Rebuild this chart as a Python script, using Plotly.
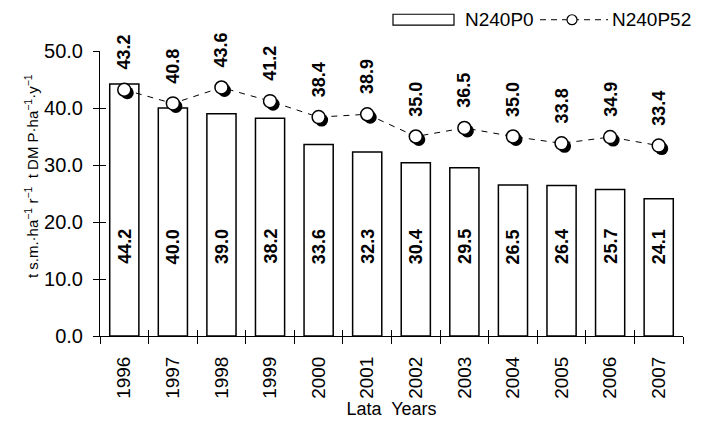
import plotly.graph_objects as go

years = ["1996", "1997", "1998", "1999", "2000", "2001", "2002", "2003", "2004", "2005", "2006", "2007"]
bar_vals = [44.2, 40.0, 39.0, 38.2, 33.6, 32.3, 30.4, 29.5, 26.5, 26.4, 25.7, 24.1]
line_vals = [43.2, 40.8, 43.6, 41.2, 38.4, 38.9, 35.0, 36.5, 35.0, 33.8, 34.9, 33.4]
y_ticks = [0, 10, 20, 30, 40, 50]
y_tick_text = ["0.0", "10.0", "20.0", "30.0", "40.0", "50.0"]

FONT = "Liberation Sans, Arial, sans-serif"
W, H = 701, 423
L, R, T, B = 100, 18, 51, 85
pw = W - L - R
ph = H - T - B
ncat = len(years)
sx = 3.0 / (pw / ncat)   # shadow offset in category units
sy = 3.0 * 50 / ph       # shadow offset in value units

fig = go.Figure()
fig.add_trace(go.Bar(
    x=years, y=bar_vals, width=0.6,
    marker=dict(color="white", line=dict(color="black", width=1.5)),
    showlegend=False, xaxis="x", yaxis="y"))
# shadow discs
fig.add_trace(go.Scatter(
    x=years, y=line_vals, mode="markers",
    marker=dict(size=13, color="black", line=dict(width=0)),
    showlegend=False, xaxis="x2", yaxis="y2", cliponaxis=False))
fig.add_trace(go.Scatter(
    x=years, y=line_vals, mode="lines+markers",
    line=dict(color="black", width=1, dash="6px,6px"),
    marker=dict(size=13, color="white", line=dict(color="black", width=1.5)),
    showlegend=False, xaxis="x3", yaxis="y3", cliponaxis=False))

ann = []
for i, v in enumerate(bar_vals):
    ann.append(dict(x=i, y=0, xref="x", yref="y", text="<b>%.1f</b>" % v,
                    textangle=-90, showarrow=False, xanchor="center", yanchor="bottom",
                    yshift=70, font=dict(family=FONT, size=18, color="black")))
for i, v in enumerate(line_vals):
    ann.append(dict(x=i, y=v, xref="x", yref="y", text="<b>%.1f</b>" % v,
                    textangle=-90, showarrow=False, xanchor="center", yanchor="bottom",
                    yshift=18, font=dict(family=FONT, size=18, color="black")))

# y-axis title
ann.append(dict(xref="paper", yref="paper", x=-69 / pw, y=(H - B - 177) / ph,
                text="t s.m.·ha<sup>−1</sup> r<sup>−1</sup>  t DM P·ha<sup>−1</sup>·y<sup>−1</sup>",
                textangle=-90, showarrow=False, xanchor="center", yanchor="middle",
                font=dict(family=FONT, size=15, color="black")))

shapes = [
    dict(type="rect", xref="paper", yref="paper", x0=(393 - L) / pw, x1=(454 - L) / pw,
         y0=(H - B - 25) / ph, y1=(H - B - 14) / ph, line=dict(color="black", width=1.2), fillcolor="white"),
    dict(type="line", xref="paper", yref="paper", x0=(540 - L) / pw, x1=(608 - L) / pw,
         y0=(H - B - 19.5) / ph, y1=(H - B - 19.5) / ph, line=dict(color="black", width=1, dash="6px,5px")),
    dict(type="circle", xref="paper", yref="paper", x0=(567 - L) / pw, x1=(577 - L) / pw,
         y0=(H - B - 24.5) / ph, y1=(H - B - 14.5) / ph, line=dict(color="black", width=1.2), fillcolor="white"),
]
ann.append(dict(xref="paper", yref="paper", x=(463 - L) / pw, y=(H - B - 19.5) / ph, text="N240P0",
                showarrow=False, xanchor="left", yanchor="middle", font=dict(family=FONT, size=19, color="black")))
ann.append(dict(xref="paper", yref="paper", x=(610 - L) / pw, y=(H - B - 19.5) / ph, text="N240P52",
                showarrow=False, xanchor="left", yanchor="middle", font=dict(family=FONT, size=19, color="black")))

fig.update_layout(
    width=W, height=H, margin=dict(l=L, r=R, t=T, b=B),
    paper_bgcolor="white", plot_bgcolor="white",
    font=dict(family=FONT, size=18, color="black"),
    showlegend=False,
    annotations=ann, shapes=shapes,
    xaxis=dict(type="category", categoryarray=years, range=[-0.5, ncat - 0.5],
               showline=True, linecolor="black", linewidth=1,
               ticks="outside", ticklen=7, tickcolor="black", tickson="boundaries",
               tickangle=-90, ticklabelstandoff=12,
               tickfont=dict(family=FONT, size=19),
               title=dict(text="Lata  Years", font=dict(family=FONT, size=18), standoff=0),
               showgrid=False, zeroline=False),
    yaxis=dict(range=[0, 50], tickvals=y_ticks, ticktext=y_tick_text,
               showline=True, linecolor="black", linewidth=1,
               ticks="outside", ticklen=6, tickcolor="black", ticklabelstandoff=6,
               tickfont=dict(family=FONT, size=20),
               showgrid=False, zeroline=False),
    xaxis2=dict(type="category", categoryarray=years, range=[-0.5 - sx, ncat - 0.5 - sx],
                overlaying="x", visible=False),
    yaxis2=dict(range=[sy, 50 + sy], overlaying="y", visible=False),
    xaxis3=dict(type="category", categoryarray=years, range=[-0.5, ncat - 0.5],
                overlaying="x", showticklabels=False, showline=False, showgrid=False, zeroline=False,
                ticks="inside", ticklen=6, tickcolor="black", tickson="boundaries"),
    yaxis3=dict(range=[0, 50], tickvals=y_ticks, overlaying="y", showticklabels=False,
                showline=False, showgrid=False, zeroline=False,
                ticks="inside", ticklen=6, tickcolor="black"),
)

fig.write_html("out.html")
